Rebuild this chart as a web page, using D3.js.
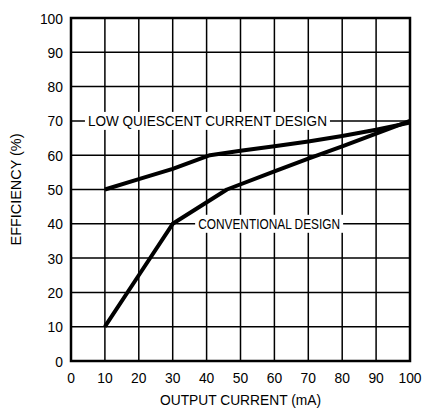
<!DOCTYPE html>
<html>
<head>
<meta charset="utf-8">
<script src="https://cdn.jsdelivr.net/npm/d3@7"></script>
<style>
  body { margin: 0; background: #fff; }
  svg text { font-family: "Liberation Sans", Arial, sans-serif; fill: #000; }
</style>
</head>
<body>
<div class="content"></div>
<script>
var size = {width: 423, height: 411};
var padding = {left: 71, right: 13, top: 18, bottom: 50};

var xTicks = [0, 10, 20, 30, 40, 50, 60, 70, 80, 90, 100];
var yTicks = [0, 10, 20, 30, 40, 50, 60, 70, 80, 90, 100];

var lowQCurrent = [10, 20, 30, 41, 50, 60, 70, 80, 90, 100];
var lowQEff     = [50, 53, 56, 60, 61.3, 62.6, 64, 65.6, 67.4, 69.5];
var convCurrent = [10, 20, 30, 46, 60, 70, 80, 90, 100];
var convEff     = [10, 25, 40, 50, 55.3, 59, 62.6, 66.3, 70];

var labels = [
  {text: "LOW QUIESCENT CURRENT DESIGN", x: 5, y: 70, len: 239},
  {text: "CONVENTIONAL DESIGN", x: 37.5, y: 40, len: 142}
];

var chart = d3.select('.content')
  .append('svg')
  .attr('width', size.width)
  .attr('height', size.height);

var xScale = d3.scaleLinear()
  .domain([0, 100])
  .range([padding.left, size.width - padding.right]);
var yScale = d3.scaleLinear()
  .domain([0, 100])
  .range([size.height - padding.bottom, padding.top]);

// grid
chart.append('g').selectAll('line')
  .data(xTicks.slice(1, -1))
  .enter().append('line')
  .attr('x1', d => xScale(d)).attr('x2', d => xScale(d))
  .attr('y1', yScale(0)).attr('y2', yScale(100))
  .attr('stroke', '#000').attr('stroke-width', 1.5);
chart.append('g').selectAll('line')
  .data(yTicks.slice(1, -1))
  .enter().append('line')
  .attr('x1', xScale(0)).attr('x2', xScale(100))
  .attr('y1', d => yScale(d)).attr('y2', d => yScale(d))
  .attr('stroke', '#000').attr('stroke-width', 1.5);

// label boxes over the grid
var lab = chart.append('g').selectAll('g')
  .data(labels)
  .enter().append('g');
lab.append('rect')
  .attr('x', d => xScale(d.x) - 3)
  .attr('y', d => yScale(d.y) - 9)
  .attr('width', d => d.len + 6)
  .attr('height', 18)
  .attr('fill', '#fff');
lab.append('text')
  .attr('x', d => xScale(d.x))
  .attr('y', d => yScale(d.y) + 5.5)
  .attr('font-size', 15)
  .attr('textLength', d => d.len)
  .attr('lengthAdjust', 'spacingAndGlyphs')
  .text(d => d.text);

// border
chart.append('rect')
  .attr('x', xScale(0)).attr('y', yScale(100))
  .attr('width', xScale(100) - xScale(0))
  .attr('height', yScale(0) - yScale(100))
  .attr('fill', 'none').attr('stroke', '#000').attr('stroke-width', 2.5);

// curves
var line = d3.line()
  .x(d => xScale(d[0]))
  .y(d => yScale(d[1]));
chart.append('path')
  .datum(d3.zip(lowQCurrent, lowQEff))
  .attr('d', line)
  .attr('fill', 'none').attr('stroke', '#000').attr('stroke-width', 4)
  .attr('stroke-linejoin', 'round');
chart.append('path')
  .datum(d3.zip(convCurrent, convEff))
  .attr('d', line)
  .attr('fill', 'none').attr('stroke', '#000').attr('stroke-width', 4)
  .attr('stroke-linejoin', 'round');

// tick labels
chart.append('g').selectAll('text')
  .data(yTicks)
  .enter().append('text')
  .attr('x', xScale(0) - 8)
  .attr('y', d => yScale(d) + 5.5)
  .attr('text-anchor', 'end')
  .attr('font-size', 15.5)
  .attr('textLength', d => String(d).length * 7.7)
  .attr('lengthAdjust', 'spacingAndGlyphs')
  .text(d => d);
chart.append('g').selectAll('text')
  .data(xTicks)
  .enter().append('text')
  .attr('x', d => xScale(d))
  .attr('y', yScale(0) + 22)
  .attr('text-anchor', 'middle')
  .attr('font-size', 15.5)
  .attr('textLength', d => String(d).length * 7.7)
  .attr('lengthAdjust', 'spacingAndGlyphs')
  .text(d => d);

// axis titles
chart.append('text')
  .attr('x', (xScale(0) + xScale(100)) / 2)
  .attr('y', 405)
  .attr('text-anchor', 'middle')
  .attr('font-size', 14.5)
  .attr('textLength', 161)
  .attr('lengthAdjust', 'spacingAndGlyphs')
  .text('OUTPUT CURRENT (mA)');
chart.append('text')
  .attr('transform', 'translate(21,' + yScale(50) + ') rotate(-90)')
  .attr('text-anchor', 'middle')
  .attr('font-size', 14)
  .attr('textLength', 112)
  .attr('lengthAdjust', 'spacingAndGlyphs')
  .text('EFFICIENCY (%)');
</script>
</body>
</html>
